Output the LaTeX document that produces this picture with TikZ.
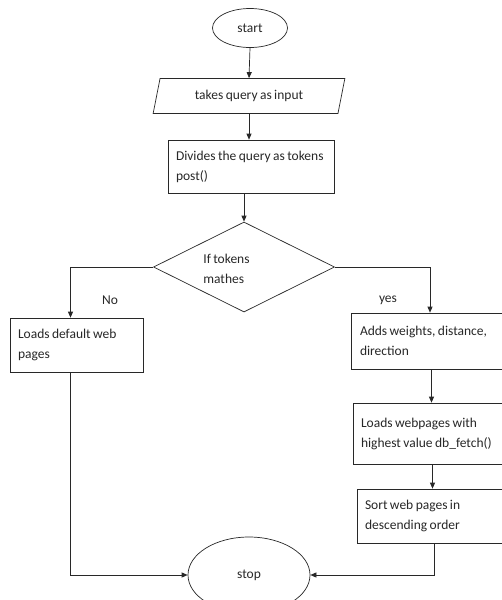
\documentclass[tikz,border=0pt]{standalone}
\usepackage{fontspec}
\setmainfont{Carlito}
\usepackage{tikz}
\usetikzlibrary{arrows,arrows.meta}
\usetikzlibrary{shapes.geometric}
\definecolor{linie}{RGB}{40,40,40}
\hyphenpenalty=10000

\begin{document}
\begin{tikzpicture}[x=1pt,y=-1pt,linie,
    font=\fontsize{13.5}{20}\selectfont,
    every node/.style={execute at begin node={\spaceskip=0.18em\relax}},
    term/.style={draw=linie,ellipse,inner sep=0pt},
    iobox/.style={draw=linie,trapezium,trapezium left angle=70,trapezium right angle=110,
        trapezium stretches=true,minimum width=192,minimum height=35,inner sep=0pt},
    procbox/.style={draw=linie,rectangle,align=left,inner sep=0pt},
    decide/.style={draw=linie,diamond,inner sep=0pt,align=left},
    pfeil/.style={-{Triangle[length=6pt,width=5pt]}},
    line width=0.7pt]
    \useasboundingbox (0,0) rectangle (502,600);
    \clip (0,0) rectangle (502,600);
    \fill[white] (0,0) rectangle (502,600);

    \node[term,minimum width=75,minimum height=39] (start) at (250,28) {start};
    \node[iobox] (input) at (249,96) {takes query as input};
    \node[procbox,minimum width=166,minimum height=53,text width=150] (divide) at (251,166.5)
        {\mbox{Divides the query as tokens}\\post()};
    \node[decide,minimum width=181,minimum height=90] (match) at (244,267) {};
    \node[align=left,anchor=west,inner sep=0pt] (matchtxt) at (203,269) {If tokens\\mathes};
    \node[procbox,minimum width=133,minimum height=54,text width=117] (default) at (76.5,345)
        {Loads default web\\pages};
    \node[procbox,minimum width=161,minimum height=56,text width=143] (weights) at (431.5,341)
        {Adds weights, distance,\\direction};
    \node[procbox,minimum width=159,minimum height=61,text width=143] (fetch) at (432.5,433.5)
        {Loads webpages with\\highest value db\_fetch()};
    \node[procbox,minimum width=155,minimum height=54,text width=139] (sort) at (434.5,516)
        {Sort web pages in\\descending order};
    \node[term,minimum width=122,minimum height=76] (stop) at (249,575) {stop};

    \node (no) at (110,300) {No};
    \node (yes) at (388,300) {yes};

    \draw[pfeil] (start.south) -- (input.north);
    \draw[pfeil] (input.south) -- (input.south |- divide.north);
    \draw[pfeil] (match.north |- divide.south) -- (match.north);
    \draw[pfeil] (match.west) -| ([xshift=-6]default.north);
    \draw[pfeil] (match.east) -| ([xshift=-1.5]weights.north);
    \draw[pfeil] (weights.south) -- (weights.south |- fetch.north);
    \draw[pfeil] (fetch.south) -- (fetch.south |- sort.north);
    \draw[pfeil] ([xshift=-6]default.south) |- (stop.west);
    \draw[pfeil] (sort.south) |- (stop.east);
\end{tikzpicture}
\end{document}
